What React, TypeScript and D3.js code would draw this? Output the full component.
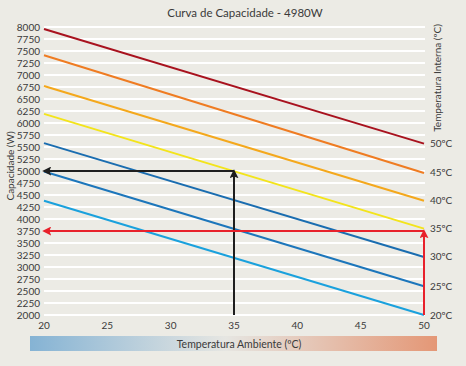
import { useEffect, useRef } from 'react'
import * as d3 from 'd3'

const W = 466
const H = 366

// capacity curves, one per internal temperature
const internalTemps = [50, 45, 40, 35, 30, 25, 20]
const ambientPoints = [20, 50]
const capacityValues = [
  [7960, 5570],
  [7410, 4960],
  [6770, 4380],
  [6190, 3800],
  [5580, 3210],
  [4990, 2600],
  [4380, 2000],
]
const lineColors = ['#a8121e', '#ef7c22', '#f4a81c', '#f3e41b', '#1a6db0', '#1c76bb', '#1aa1dd']

const xTicks = [20, 25, 30, 35, 40, 45, 50]
const yTicks = d3.range(2000, 8001, 250)

// reading guides: [ambient, capacity] path, arrow at the end
const blackGuide = [[35, 2000], [35, 5000], [20, 5000]]
const redGuide = [[50, 2000], [50, 3750], [20, 3750]]

export default function App() {
  const svgRef = useRef<SVGSVGElement>(null)

  useEffect(() => {
    if (!svgRef.current) return
    const svg = d3.select(svgRef.current)
    svg.selectAll('*').remove()

    const x = d3.scaleLinear().domain([20, 50]).range([44, 424])
    const y = d3.scaleLinear().domain([2000, 8000]).range([315, 27])
    const font = 'Lato, "Open Sans", sans-serif'
    const textColor = '#3a3a3a'

    svg.append('rect').attr('width', W).attr('height', H).attr('fill', '#ecebe5')

    // gradient for the ambient bar
    const defs = svg.append('defs')
    const grad = defs.append('linearGradient').attr('id', 'amb')
    grad.append('stop').attr('offset', '0%').attr('stop-color', '#85b3d4')
    grad.append('stop').attr('offset', '48%').attr('stop-color', '#e6e6e2')
    grad.append('stop').attr('offset', '100%').attr('stop-color', '#e49776')

    ;['black', 'red'].forEach(k => {
      defs.append('marker')
        .attr('id', `arr-${k}`)
        .attr('viewBox', '0 0 10 10')
        .attr('refX', 8)
        .attr('refY', 5)
        .attr('markerWidth', 4.5)
        .attr('markerHeight', 4.5)
        .attr('orient', 'auto')
        .append('path')
        .attr('d', 'M0,0 L10,5 L0,10 L2,5 Z')
        .attr('fill', k === 'black' ? '#1e1e1e' : '#e8212b')
    })

    // grid
    svg.append('g')
      .selectAll('line')
      .data(yTicks)
      .join('line')
      .attr('x1', x(20))
      .attr('x2', x(50) + 1)
      .attr('y1', d => y(d))
      .attr('y2', d => y(d))
      .attr('stroke', '#ffffff')
      .attr('stroke-width', 2)

    // y tick labels
    svg.append('g')
      .selectAll('text')
      .data(yTicks)
      .join('text')
      .attr('x', 40)
      .attr('y', d => y(d))
      .attr('dy', '0.35em')
      .attr('text-anchor', 'end')
      .attr('font-family', font)
      .attr('font-size', 10)
      .attr('fill', textColor)
      .text(d => d)

    // x tick labels
    svg.append('g')
      .selectAll('text')
      .data(xTicks)
      .join('text')
      .attr('x', d => x(d))
      .attr('y', 329)
      .attr('text-anchor', 'middle')
      .attr('font-family', font)
      .attr('font-size', 10)
      .attr('fill', textColor)
      .text(d => d)

    const line = d3.line<number[]>().x(d => x(d[0])).y(d => y(d[1]))

    // capacity curves
    capacityValues.forEach((vals, i) => {
      const pts = ambientPoints.map((a, j) => [a, vals[j]])
      svg.append('path')
        .attr('d', line(pts))
        .attr('fill', 'none')
        .attr('stroke', lineColors[i])
        .attr('stroke-width', 2)
      svg.append('text')
        .attr('x', 430)
        .attr('y', y(vals[1]))
        .attr('dy', '0.35em')
        .attr('font-family', font)
        .attr('font-size', 10)
        .attr('fill', textColor)
        .text(`${internalTemps[i]}ºC`)
    })

    // guides
    ;[
      { pts: blackGuide, color: '#1e1e1e', k: 'black' },
      { pts: redGuide, color: '#e8212b', k: 'red' },
    ].forEach(g => {
      const [p0, p1, p2] = g.pts
      svg.append('path')
        .attr('d', line([p0, p1]))
        .attr('stroke', g.color)
        .attr('stroke-width', 2)
        .attr('marker-end', `url(#arr-${g.k})`)
      svg.append('path')
        .attr('d', line([p1, p2]))
        .attr('stroke', g.color)
        .attr('stroke-width', 2)
        .attr('marker-end', `url(#arr-${g.k})`)
    })

    // title
    svg.append('text')
      .attr('x', 245)
      .attr('y', 17)
      .attr('text-anchor', 'middle')
      .attr('font-family', font)
      .attr('font-size', 11.5)
      .attr('fill', textColor)
      .text('Curva de Capacidade - 4980W')

    // left axis title
    svg.append('text')
      .attr('transform', 'translate(14,166) rotate(-90)')
      .attr('text-anchor', 'middle')
      .attr('font-family', font)
      .attr('font-size', 10)
      .attr('fill', textColor)
      .text('Capacidade (W)')

    // right axis title
    svg.append('text')
      .attr('transform', 'translate(441,78) rotate(-90)')
      .attr('text-anchor', 'middle')
      .attr('font-family', font)
      .attr('font-size', 10)
      .attr('fill', textColor)
      .text('Temperatura Interna (ºC)')

    // ambient bar
    svg.append('rect')
      .attr('x', 30)
      .attr('y', 336)
      .attr('width', 407)
      .attr('height', 15)
      .attr('fill', 'url(#amb)')
    svg.append('text')
      .attr('x', 239)
      .attr('y', 347.5)
      .attr('text-anchor', 'middle')
      .attr('font-family', font)
      .attr('font-size', 10.5)
      .attr('fill', textColor)
      .text('Temperatura Ambiente (ºC)')
  }, [])

  return (
    <svg
      ref={svgRef}
      width={W}
      height={H}
      style={{ position: 'absolute', left: 0, top: 0 }}
    />
  )
}
